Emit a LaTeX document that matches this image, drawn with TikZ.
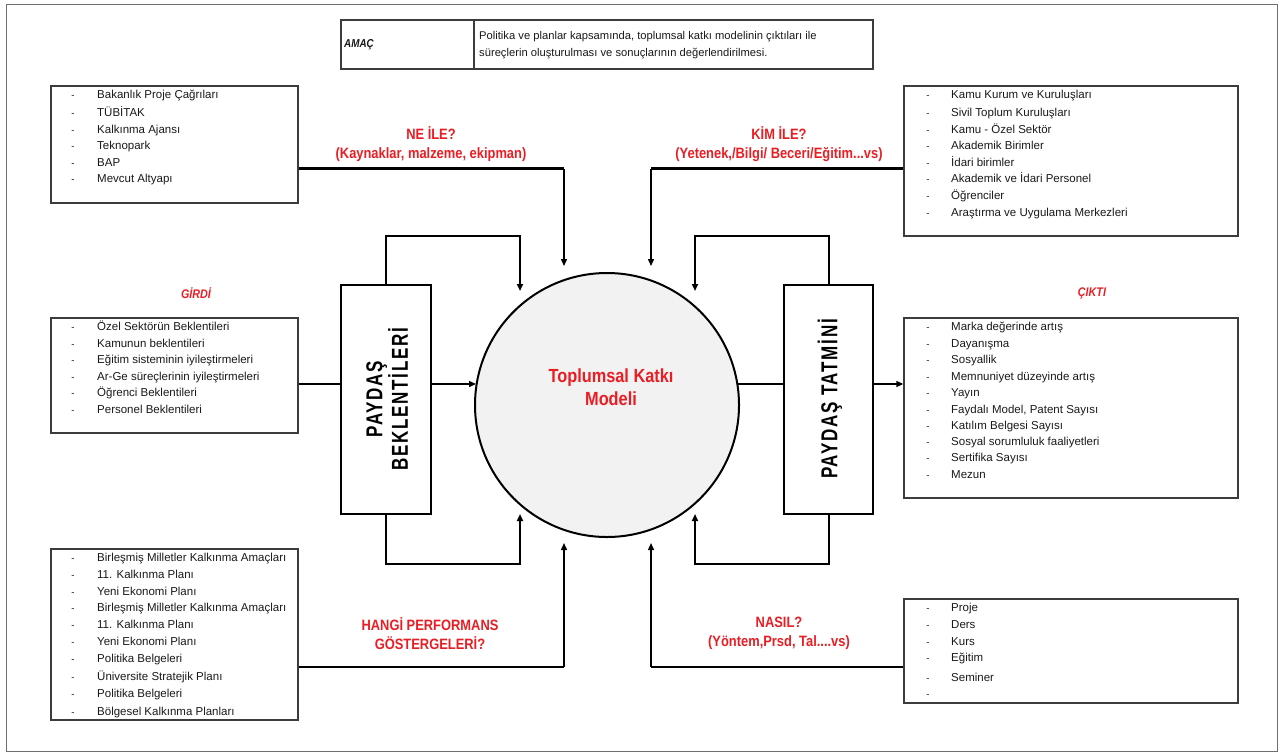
\documentclass[tikz,border=0pt]{standalone}
\usepackage{fontspec}
\setmainfont{Liberation Sans}
\newfontfamily\narrowfont[FakeStretch=0.86]{Liberation Sans}
\newfontfamily\spacedfont[LetterSpace=10]{Liberation Sans}
\usetikzlibrary{arrows.meta}
\definecolor{lblred}{RGB}{232,30,36}
\definecolor{circfill}{RGB}{242,242,242}
\definecolor{boxgray}{RGB}{60,60,60}
\definecolor{framegray}{RGB}{110,110,110}
\definecolor{txt}{RGB}{25,25,25}
\newcommand\putlist[4]{%
  \foreach \lsty/\lstt [count=\lstn] in {#4}{%
    \node[dashmark] (#1d\lstn) at (#2,\lsty+4) {-};
    \node[item] (#1t\lstn) at (#3,\lsty+4) {\lstt};
  }}
\begin{document}
\begin{tikzpicture}[x=1pt,y=-1pt,
  listbox/.style={draw=boxgray, line width=1.3pt, inner sep=0pt},
  item/.style={anchor=base west, inner sep=0pt, text=txt, font=\fontsize{11.5}{13}\selectfont},
  dashmark/.style={anchor=base, inner sep=0pt, text=txt, font=\fontsize{9.5}{10}\selectfont},
  redlabel/.style={text=lblred, font=\narrowfont\bfseries\fontsize{15}{19}\selectfont, align=center, inner sep=0pt},
  sidelabel/.style={text=lblred, font=\narrowfont\bfseries\itshape\fontsize{12.5}{15}\selectfont, inner sep=0pt},
  thickln/.style={line width=2.8pt},
  arr/.style={line width=1.4pt, -{Triangle[length=7pt,width=6pt]}},
  loopln/.style={line width=2pt, -{Triangle[length=7pt,width=6pt]}},
  pbox/.style={draw, line width=2.6pt, inner sep=0pt, minimum height=229pt},
  ptext/.style={rotate=90, inner sep=0pt, align=center, font=\spacedfont\bfseries\fontsize{23}{21}\selectfont}]
\useasboundingbox (0,0) rectangle (1281,755);
\draw[framegray, line width=1pt] (6,4) rectangle (1277,751);

% AMAC box
\node[listbox, minimum width=532pt, minimum height=49pt] (amac) at (607,44.5) {};
\coordinate (dv) at (474,0);
\draw[boxgray, line width=1.3pt] (amac.north -| dv) -- (amac.south -| dv);
\node[anchor=west, inner sep=0pt, text=txt, font=\narrowfont\bfseries\itshape\fontsize{11.5}{10}\selectfont] (amact) at (344,45) {AMAÇ};
\node[anchor=west, inner sep=0pt, text=txt, font=\fontsize{11.2}{17}\selectfont, align=left] (amacd) at (479,45.5)
  {Politika ve planlar kapsamında, toplumsal katkı modelinin çıktıları ile\\süreçlerin oluşturulması ve sonuçlarının değerlendirilmesi.};

% list boxes
\node[listbox, minimum width=247pt, minimum height=117pt] (tl) at (174.5,144.5) {};
\node[listbox, minimum width=334pt, minimum height=150pt] (tr) at (1071,161) {};
\node[listbox, minimum width=247pt, minimum height=115pt] (ml) at (174.5,375.5) {};
\node[listbox, minimum width=334pt, minimum height=180pt] (mr) at (1071,408) {};
\node[listbox, minimum width=247pt, minimum height=171pt] (bl) at (174.5,634.5) {};
\node[listbox, minimum width=334pt, minimum height=104pt] (br) at (1071,651) {};

\putlist{tl}{73}{97}{94/Bakanlık Proje Çağrıları, 112/TÜBİTAK, 129/Kalkınma Ajansı, 145/Teknopark, 162/BAP, 178/Mevcut Altyapı}
\putlist{tr}{928}{951}{94/Kamu Kurum ve Kuruluşları, 112/Sivil Toplum Kuruluşları, 129/Kamu - Özel Sektör, 145/Akademik Birimler, 162/İdari birimler, 178/Akademik ve İdari Personel, 195/Öğrenciler, 212/Araştırma ve Uygulama Merkezleri}
\putlist{ml}{73}{97}{326/Özel Sektörün Beklentileri, 343/Kamunun beklentileri, 359.5/Eğitim sisteminin iyileştirmeleri, 376/Ar-Ge süreçlerinin iyileştirmeleri, 392.5/Öğrenci Beklentileri, 409/Personel Beklentileri}
\putlist{mr}{928}{951}{326/Marka değerinde artış, 343/Dayanışma, 359.5/Sosyallik, 376/Memnuniyet düzeyinde artış, 392.5/Yayın, {409/Faydalı Model, Patent Sayısı}, 425.5/Katılım Belgesi Sayısı, 441.5/Sosyal sorumluluk faaliyetleri, 457.5/Sertifika Sayısı, 474/Mezun}
\putlist{bl}{73}{97}{557.5/Birleşmiş Milletler Kalkınma Amaçları, 574/11. Kalkınma Planı, 591/Yeni Ekonomi Planı, 607.5/Birleşmiş Milletler Kalkınma Amaçları, 624/11. Kalkınma Planı, 641/Yeni Ekonomi Planı, 658/Politika Belgeleri, 676/Üniversite Stratejik Planı, 693.5/Politika Belgeleri, 711/Bölgesel Kalkınma Planları}
\putlist{br}{928}{951}{607.5/Proje, 624/Ders, 641/Kurs, 657.5/Eğitim, 677/Seminer, 693/{}}

% side labels
\node[sidelabel] (girdi) at (196,293) {GİRDİ};
\node[sidelabel] (cikti) at (1092,293) {ÇIKTI};

% question labels
\node[redlabel] (neile) at (431,144.5) {NE İLE?\\(Kaynaklar, malzeme, ekipman)};
\node[redlabel] (kimile) at (779,144.5) {KİM İLE?\\(Yetenek,/Bilgi/ Beceri/Eğitim...vs)};
\node[redlabel] (hangi) at (430,633.5) {HANGİ PERFORMANS\\GÖSTERGELERİ?};
\node[redlabel] (nasil) at (779,633.5) {NASIL?\\(Yöntem,Prsd, Tal....vs)};

% center circle
\node[circle, draw, line width=2pt, fill=circfill, minimum size=264pt, inner sep=0pt] (circ) at (607,405) {};
\node[text=lblred, align=center, inner sep=0pt, font=\narrowfont\bfseries\fontsize{19}{22.5}\selectfont] (ctext) at (611,387) {Toplumsal Katkı\\Modeli};

% stakeholder boxes
\node[pbox, minimum width=90pt] (pb) at (386,399.5) {};
\node[pbox, minimum width=89pt] (pt) at (828.5,399.5) {};
\node[ptext] (pbt) at (387,399) {\scalebox{0.74}[1]{PAYDAŞ}\\\scalebox{0.74}[1]{BEKLENTİLERİ}};
\node[ptext] (ptt) at (830,399) {\scalebox{0.74}[1]{PAYDAŞ TATMİNİ}};

% top and bottom connectors
\coordinate (k1) at (564,168.5); \coordinate (e1) at (564,266);
\coordinate (k2) at (651,168.5); \coordinate (e2) at (651,266);
\coordinate (k3) at (564,667);   \coordinate (e3) at (564,543);
\coordinate (k4) at (651,667);   \coordinate (e4) at (651,543);
\draw[thickln] (tl.east |- k1) -- (k1);
\draw[arr] (k1) -- (e1);
\draw[thickln] (tr.west |- k2) -- (k2);
\draw[arr] (k2) -- (e2);
\draw[thickln] (bl.east |- k3) -- (k3);
\draw[arr] (k3) -- (e3);
\draw[thickln] (br.west |- k4) -- (k4);
\draw[arr] (k4) -- (e4);

% feedback loops
\coordinate (a1) at (520,236); \coordinate (a1e) at (520,291);
\coordinate (a2) at (695,236); \coordinate (a2e) at (695,291);
\coordinate (a3) at (520,564); \coordinate (a3e) at (520,514);
\coordinate (a4) at (695,564); \coordinate (a4e) at (695,514);
\draw[loopln] (pb.north) |- (a1) -- (a1e);
\draw[loopln] (pt.north) |- (a2) -- (a2e);
\draw[loopln] (pb.south) |- (a3) -- (a3e);
\draw[loopln] (pt.south) |- (a4) -- (a4e);

% middle line
\coordinate (m) at (0,384);
\coordinate (cw) at (476,384);
\coordinate (ce) at (738,384);
\draw[thickln] (ml.east |- m) -- (pb.west |- m);
\draw[arr] (pb.east |- m) -- (cw);
\draw[thickln] (ce) -- (pt.west |- m);
\draw[arr] (pt.east |- m) -- (mr.west |- m);
\end{tikzpicture}
\end{document}
